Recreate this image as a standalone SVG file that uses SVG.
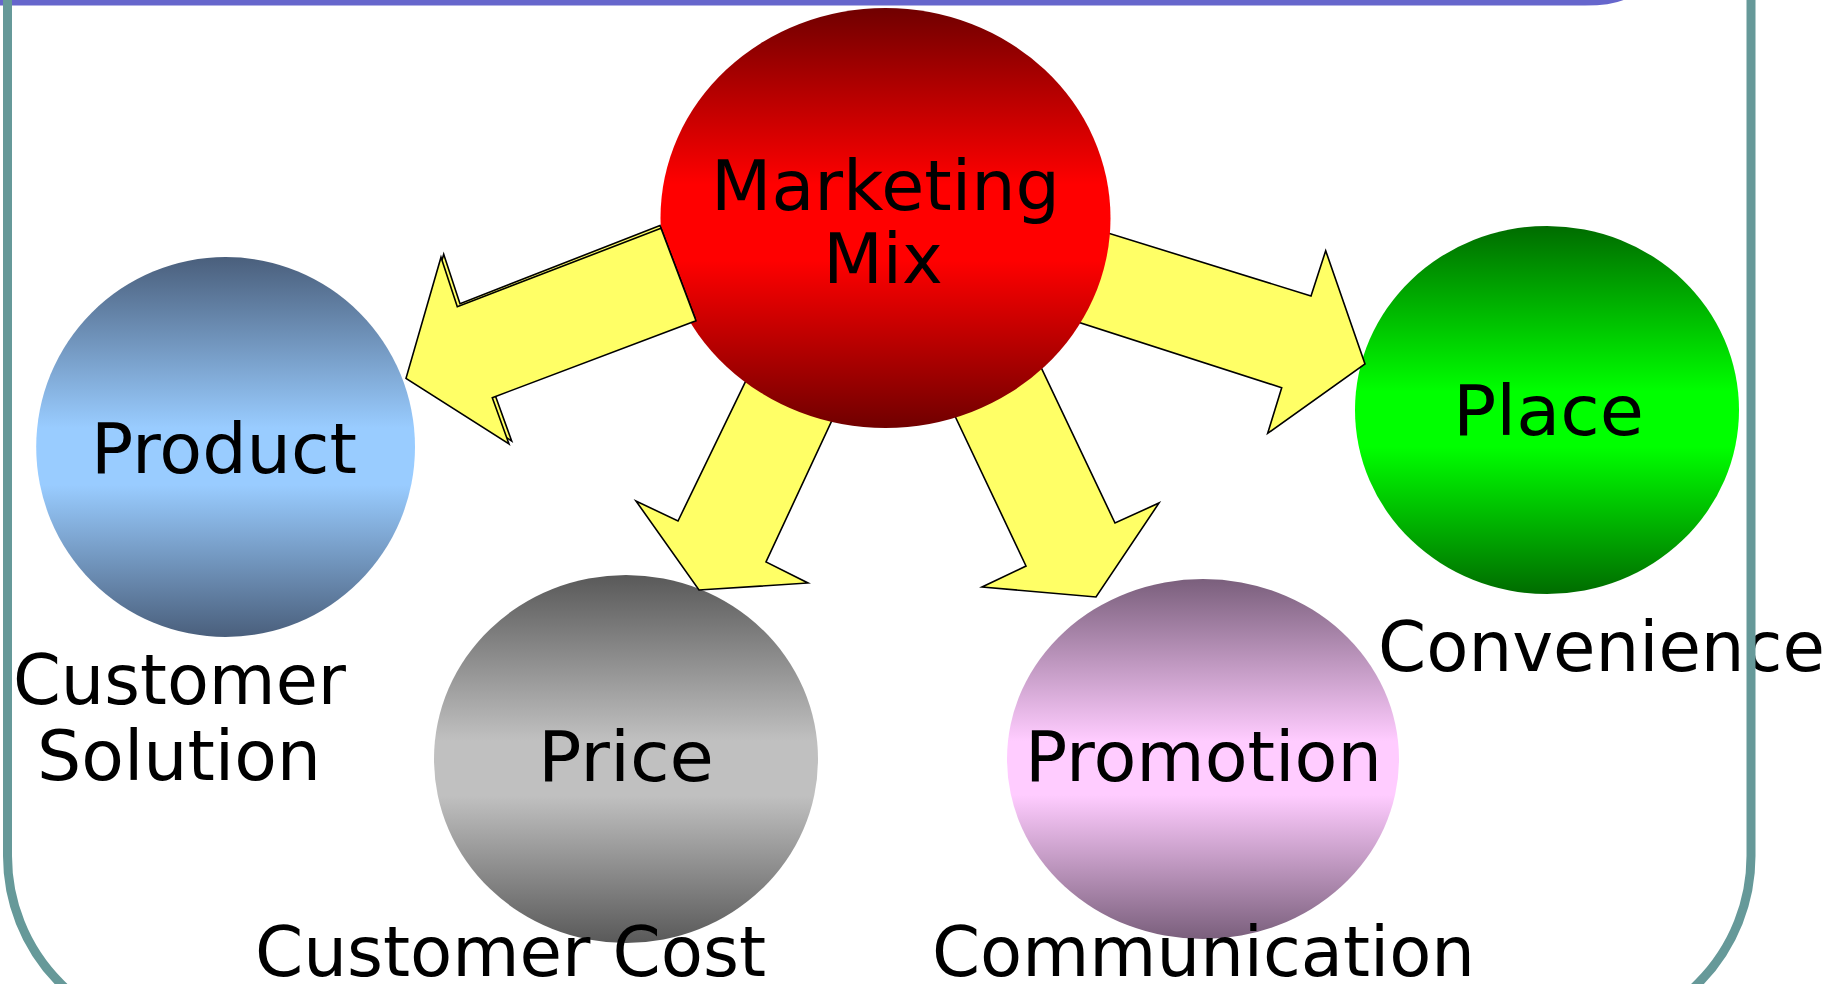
<svg xmlns="http://www.w3.org/2000/svg" width="1833" height="984" viewBox="0 0 1833 984">
  <defs>
    <linearGradient id="gRed" x1="0" y1="0" x2="0" y2="1">
      <stop offset="0" stop-color="#700000"/>
      <stop offset="0.42" stop-color="#ff0000"/>
      <stop offset="0.6" stop-color="#ff0000"/>
      <stop offset="1" stop-color="#700000"/>
    </linearGradient>
    <linearGradient id="gBlue" x1="0" y1="0" x2="0" y2="1">
      <stop offset="0" stop-color="#4a5f7c"/>
      <stop offset="0.45" stop-color="#99ccff"/>
      <stop offset="0.6" stop-color="#99ccff"/>
      <stop offset="1" stop-color="#4a5f7c"/>
    </linearGradient>
    <linearGradient id="gGray" x1="0" y1="0" x2="0" y2="1">
      <stop offset="0" stop-color="#595959"/>
      <stop offset="0.45" stop-color="#c0c0c0"/>
      <stop offset="0.6" stop-color="#c0c0c0"/>
      <stop offset="1" stop-color="#595959"/>
    </linearGradient>
    <linearGradient id="gPink" x1="0" y1="0" x2="0" y2="1">
      <stop offset="0" stop-color="#7a5f7c"/>
      <stop offset="0.45" stop-color="#ffccff"/>
      <stop offset="0.6" stop-color="#ffccff"/>
      <stop offset="1" stop-color="#7a5f7c"/>
    </linearGradient>
    <linearGradient id="gGreen" x1="0" y1="0" x2="0" y2="1">
      <stop offset="0" stop-color="#006c00"/>
      <stop offset="0.45" stop-color="#00ff00"/>
      <stop offset="0.6" stop-color="#00ff00"/>
      <stop offset="1" stop-color="#006c00"/>
    </linearGradient>
  </defs>
  <style>
    .lbl { font-family: "DejaVu Sans", "Verdana", sans-serif; font-size: 69px; fill: #000; }
    .mid { text-anchor: middle; }
    .arrow { fill: #ffff66; stroke: #000; stroke-width: 1.6; stroke-linejoin: miter; }
    .frame { fill: none; stroke: #669999; stroke-width: 9; }
  </style>

  <rect x="0" y="0" width="1833" height="984" fill="#ffffff"/>

  <!-- title bar edge -->
  <path d="M -5 -5 H 1632 Q 1620 5.5 1585 5.5 H -5 Z" fill="#6666cc"/>

  <!-- outer nodes -->
  <g id="product">
    <ellipse cx="225.6" cy="447" rx="189.4" ry="190" fill="url(#gBlue)"/>
  </g>
  <g id="price">
    <ellipse cx="626" cy="759" rx="192" ry="184" fill="url(#gGray)"/>
  </g>
  <g id="promotion">
    <ellipse cx="1203" cy="759" rx="196" ry="180" fill="url(#gPink)"/>
  </g>
  <g id="place">
    <ellipse cx="1547" cy="410" rx="192" ry="184" fill="url(#gGreen)"/>
  </g>

  <!-- connectors: block arrows out of the centre -->
  <g id="connectors">
    <polygon class="arrow" points="1000,199.5 1311,296 1325.7,250.7 1365,364 1267.7,433.3 1281.7,387.7 1000,297"/>
    <polygon class="arrow" points="785,300 678,521 636,501 699,590 808,583 766,562 888,300"/>
    <polygon class="arrow" points="900,300 1026,566 982,587 1096,597 1159,503 1115,523 1009,300"/>

    <!-- centre node sits over the three arrows above -->
    <g id="marketing-mix">
      <ellipse cx="885.5" cy="218" rx="225" ry="210" fill="url(#gRed)"/>
    </g>

    <!-- doubled arrow towards Product -->
    <polygon class="arrow" points="660,225.5 460,303.7 443.7,254.3 408.7,375.3 511.7,441 495,394.7 695,318"/>
    <polygon class="arrow" points="661,228.3 457.3,306.7 441,257.3 406,378.3 509,444 492.3,397.7 696,320.7"/>
  </g>

  <!-- node labels -->
  <g id="labels">
    <text class="lbl mid" x="885.5" y="210" textLength="349" lengthAdjust="spacingAndGlyphs">Marketing</text>
    <text class="lbl mid" x="883" y="283">Mix</text>
    <text class="lbl mid" x="224" y="473" textLength="266" lengthAdjust="spacingAndGlyphs">Product</text>
    <text class="lbl mid" x="1548.5" y="435" textLength="191" lengthAdjust="spacingAndGlyphs">Place</text>
    <text class="lbl mid" x="626" y="781" textLength="176" lengthAdjust="spacingAndGlyphs">Price</text>
    <text class="lbl mid" x="1203.5" y="781" textLength="357" lengthAdjust="spacingAndGlyphs">Promotion</text>
  </g>

  <!-- customer-side counterparts -->
  <g id="captions">
    <text class="lbl mid" x="179.5" y="704" textLength="333" lengthAdjust="spacingAndGlyphs">Customer</text>
    <text class="lbl mid" x="179" y="780" textLength="284" lengthAdjust="spacingAndGlyphs">Solution</text>
    <text class="lbl" x="1378" y="671" textLength="447" lengthAdjust="spacingAndGlyphs">Convenience</text>
    <text class="lbl mid" x="510.5" y="976" textLength="511" lengthAdjust="spacingAndGlyphs">Customer Cost</text>
    <text class="lbl mid" x="1203.5" y="976" textLength="543" lengthAdjust="spacingAndGlyphs">Communication</text>
  </g>

  <!-- slide frame -->
  <rect class="frame" x="7.5" y="-300" width="1743.5" height="1336" rx="180" ry="180"/>
</svg>
